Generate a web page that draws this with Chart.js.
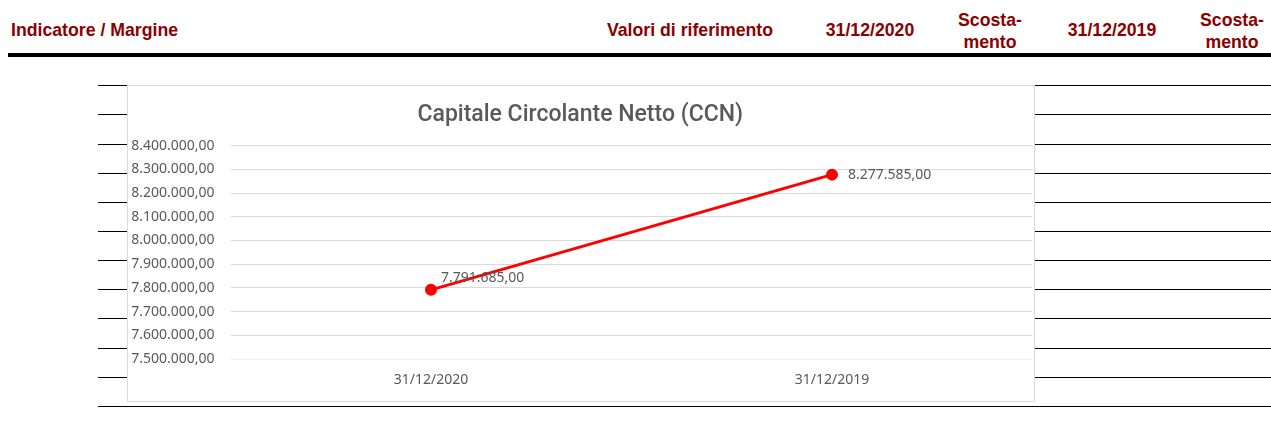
<!DOCTYPE html>
<html>
<head>
<meta charset="utf-8">
<script src="https://cdn.jsdelivr.net/npm/chart.js@4/dist/chart.umd.min.js"></script>
<style>
  html, body { margin: 0; padding: 0; background: #fff; }
  body { width: 1271px; height: 428px; position: relative; overflow: hidden; }
  .hd { position: absolute; font: bold 17.7px "Liberation Sans", Arial, sans-serif; color: #8b0000;
        line-height: 20px; white-space: nowrap; text-align: center; transform: translateX(-50%); }
  .rule { position: absolute; left: 8px; right: 0; top: 53px; height: 4px; background: #000; }
  .row { position: absolute; left: 98px; right: 0; height: 1px; background: #000; }
  #box { position: absolute; left: 127px; top: 85px; width: 908px; height: 317px;
         box-sizing: border-box; border: 1px solid #d9d9d9; background: #fff; }
</style>
</head>
<body>
<div class="hd" style="left:11px;top:20px;transform:none;">Indicatore / Margine</div>
<div class="hd" style="left:690px;top:20px;">Valori di riferimento</div>
<div class="hd" style="left:870px;top:20px;">31/12/2020</div>
<div class="hd" style="left:990px;top:9px;line-height:22px;">Scosta-<br>mento</div>
<div class="hd" style="left:1112px;top:20px;">31/12/2019</div>
<div class="hd" style="left:1232px;top:9px;line-height:22px;">Scosta-<br>mento</div>
<div class="rule"></div>
<div id="rows"></div>
<div id="box"><canvas id="ccn" width="906" height="315"></canvas></div>

<script>
// ── Chart data ────────────────────────────────────────────
const categories = ['31/12/2020', '31/12/2019'];
const ccnValues = [7791685, 8277585];
const yMin = 7500000;
const yMax = 8400000;
const yStep = 100000;

// ── Table row rules behind the chart ──────────────────────
const rowTops = [85, 114, 144, 173, 202, 231, 260, 289, 318, 348, 377, 406];
const rows = document.getElementById('rows');
rowTops.forEach(t => {
    const d = document.createElement('div');
    d.className = 'row';
    d.style.top = t + 'px';
    rows.appendChild(d);
});

// Italian number format: 8.400.000,00
function fmtIt(v) {
    const parts = Number(v).toFixed(2).split('.');
    return parts[0].replace(/\B(?=(\d{3})+(?!\d))/g, '.') + ',' + parts[1];
}

// Data labels next to the points
const labelOffsets = [[10, -12], [16, 0]];
const pointLabels = {
    id: 'pointLabels',
    afterDatasetsDraw(chart) {
        const ctx = chart.ctx;
        const meta = chart.getDatasetMeta(0);
        ctx.save();
        ctx.font = '14px "Noto Sans", sans-serif';
        ctx.fillStyle = '#595959';
        ctx.textAlign = 'left';
        ctx.textBaseline = 'middle';
        meta.data.forEach((pt, i) => {
            const off = labelOffsets[i] || [10, 0];
            ctx.fillText(fmtIt(chart.data.datasets[0].data[i]), pt.x + off[0], pt.y + off[1]);
        });
        ctx.restore();
    }
};

new Chart(document.getElementById('ccn'), {
    type: 'line',
    data: {
        labels: categories,
        datasets: [{
            data: ccnValues,
            borderColor: '#ff0000',
            backgroundColor: '#ff0000',
            borderWidth: 3,
            pointRadius: 4.5,
            pointHoverRadius: 4.5,
            tension: 0
        }]
    },
    options: {
        responsive: false,
        animation: false,
        events: [],
        layout: { autoPadding: false, padding: { top: 0, right: 1.5, bottom: 0, left: 0 } },
        plugins: {
            legend: { display: false },
            tooltip: { enabled: false },
            title: {
                display: true,
                text: 'Capitale Circolante Netto (CCN)',
                color: '#595959',
                font: { family: 'Roboto', size: 23, weight: '500', lineHeight: 1.2 },
                padding: { top: 15, bottom: 17 }
            }
        },
        scales: {
            x: {
                offset: true,
                grid: { display: false, drawTicks: false },
                border: { display: false },
                ticks: {
                    color: '#595959',
                    font: { family: 'Noto Sans', size: 14 },
                    padding: 13,
                    maxRotation: 0
                },
                afterFit: s => {
                    s.height = 42;
                    s.paddingLeft = 0;
                    s.paddingRight = 0;
                }
            },
            y: {
                min: yMin,
                max: yMax,
                border: { display: false },
                grid: {
                    drawTicks: false,
                    color: c => (c.tick && c.tick.value === yMin) ? '#efefef' : '#d9d9d9'
                },
                ticks: {
                    stepSize: yStep,
                    color: '#595959',
                    font: { family: 'Noto Sans', size: 14 },
                    padding: 16,
                    callback: v => fmtIt(v)
                },
                afterFit: s => { s.width = 102.5; }
            }
        }
    },
    plugins: [pointLabels]
});
</script>
</body>
</html>
